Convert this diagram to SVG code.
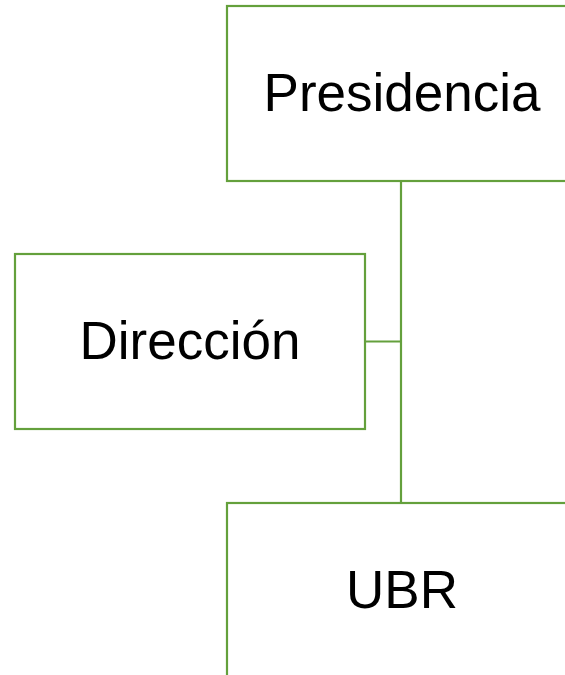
<svg xmlns="http://www.w3.org/2000/svg" width="565" height="675" viewBox="0 0 565 675">
<style>
.box{fill:#ffffff;stroke:#64a03c;stroke-width:2.2}
.conn{fill:none;stroke:#64a03c;stroke-width:2.2}
.lbl{font-family:"Liberation Sans",Arial,sans-serif;font-size:53px;fill:#000;text-anchor:middle}
</style>
<rect width="565" height="675" fill="#ffffff"/>
<g id="connectors">
<path class="conn" d="M401 181 V503"/>
<path class="conn" d="M365 341.5 H401"/>
</g>
<g id="presidencia">
<rect class="box" x="227" y="6" width="350" height="175"/>
<text class="lbl" x="402" y="111">Presidencia</text>
</g>
<g id="direccion">
<rect class="box" x="15" y="254" width="350" height="175"/>
<text class="lbl" x="190" y="359">Dirección</text>
</g>
<g id="ubr">
<rect class="box" x="227" y="503" width="350" height="175"/>
<text class="lbl" x="402" y="608">UBR</text>
</g>
</svg>
